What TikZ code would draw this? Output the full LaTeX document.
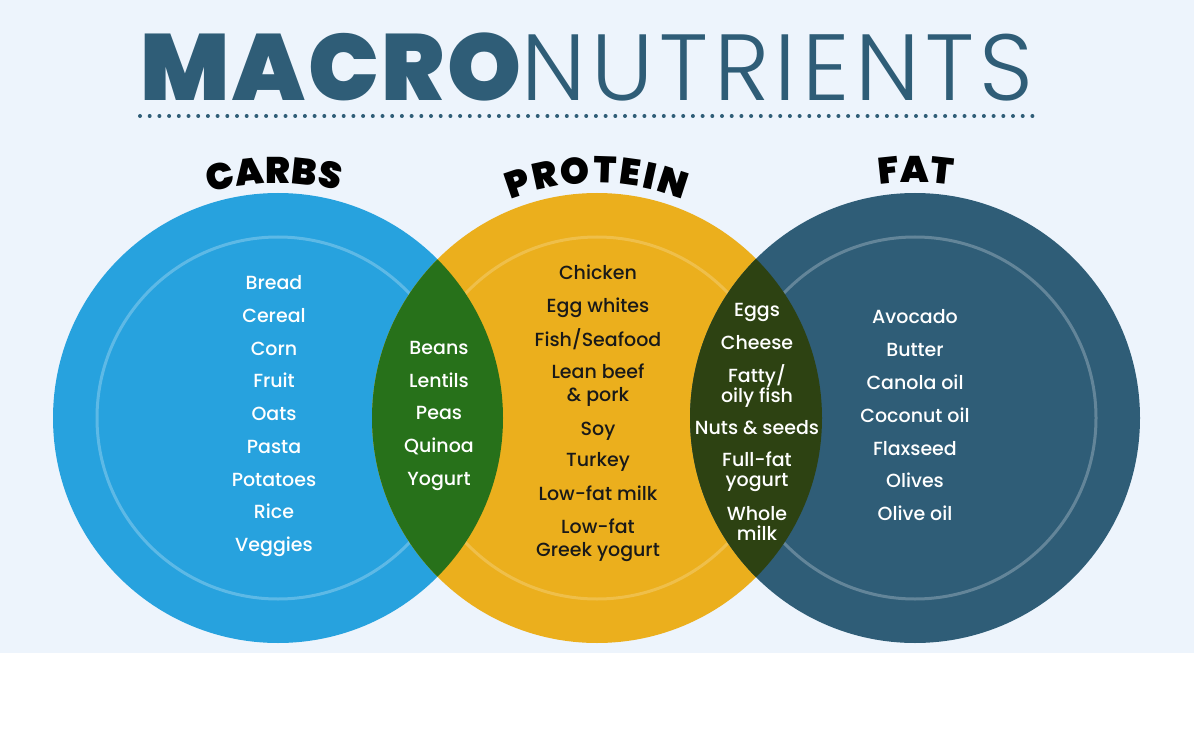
\documentclass[tikz,border=0pt]{standalone}
\usepackage{fontspec}
\setmainfont{Poppins}
\newfontfamily\lightfont{Poppins Light}[LetterSpace=6]
\newfontfamily\blackfont{Poppins Black}[LetterSpace=3]
\newfontfamily\headfont{Poppins Black}
\newfontfamily\medfont{Poppins Medium}
\usetikzlibrary{decorations.text}
\definecolor{bgBlue}{RGB}{237, 244, 252}
\definecolor{carbBlue}{RGB}{39, 162, 222}
\definecolor{protYellow}{RGB}{235, 175, 29}
\definecolor{fatNavy}{RGB}{47, 93, 119}
\definecolor{lensGreen}{RGB}{39, 113, 26}
\definecolor{lensOlive}{RGB}{45, 66, 18}
\tikzset{
  food/.style={font=\medfont\fontsize{9.5}{11.5}\selectfont, text=white, align=center, inner sep=0pt, anchor=base},
  protfood/.style={food, text=black!90},
  tightfood/.style={food, font=\medfont\fontsize{9.5}{10}\selectfont},
  ring/.style={white, opacity=0.25, line width=1.5pt},
  heading/.style={decorate, decoration={text along path, text align=fit to path,
      text={|\headfont\fontsize{18.5}{20}\selectfont|#1}}}
}
\begin{document}
\begin{tikzpicture}[x=0.5pt, y=0.5pt]
      \useasboundingbox (0,0) rectangle (1194,735);
      \fill[bgBlue] (0,82) rectangle (1194,735);

      % Title and dotted rule
      \node[fatNavy, anchor=base, inner sep=0pt] (title) at (587,634)
        {\fontsize{47}{50}\selectfont{\blackfont MACRO}{\lightfont NUTRIENTS}};
      \coordinate (ruleL) at (140,619);
      \coordinate (ruleR) at (1033,619);
      \draw[fatNavy, line width=2pt, line cap=round, dash pattern=on 0pt off 4.85pt] (ruleL) -- (ruleR);

      % Circle centres
      \coordinate (cc) at (278,317);
      \coordinate (pc) at (597,317);
      \coordinate (fc) at (915,317);

      % Circles and inner rings
      \fill[carbBlue] (cc) circle[radius=225];
      \fill[protYellow] (pc) circle[radius=225];
      \fill[fatNavy] (fc) circle[radius=225];
      \draw[ring] (cc) circle[radius=181];
      \draw[ring, opacity=0.2] (pc) circle[radius=181];
      \draw[ring] (fc) circle[radius=181];

      % Overlaps
      \begin{scope}
        \clip (cc) circle[radius=225];
        \fill[lensGreen] (pc) circle[radius=225];
      \end{scope}
      \begin{scope}
        \clip (fc) circle[radius=225];
        \fill[lensOlive] (pc) circle[radius=225];
      \end{scope}

      % Headings on arcs
      \path[heading=CARBS] ([shift={(cc)}]107:235) arc[start angle=107, end angle=75, radius=235];
      \path[heading=PROTEIN] ([shift={(pc)}]111.7:235) arc[start angle=111.7, end angle=68.5, radius=235];
      \path[heading=FAT] ([shift={(fc)}]98.6:236) arc[start angle=98.6, end angle=81.4, radius=236];

      % Carbs
      \node[food] (bread) at (274,445.5) {Bread};
      \node[food] (cereal) at (274,412.75) {Cereal};
      \node[food] (corn) at (274,380) {Corn};
      \node[food] (fruit) at (274,347.25) {Fruit};
      \node[food] (oats) at (274,314.5) {Oats};
      \node[food] (pasta) at (274,281.75) {Pasta};
      \node[food] (potatoes) at (274,249) {Potatoes};
      \node[food] (rice) at (274,216.25) {Rice};
      \node[food] (veggies) at (274,183.5) {Veggies};

      % Carbs and protein
      \node[food] (beans) at (439,380.5) {Beans};
      \node[food] (lentils) at (439,347.5) {Lentils};
      \node[food] (peas) at (439,315.5) {Peas};
      \node[food] (quinoa) at (439,282.5) {Quinoa};
      \node[food] (yogurt) at (439,249.5) {Yogurt};

      % Protein (two-line nodes sit on their last line)
      \node[protfood] (chicken) at (598,455) {Chicken};
      \node[protfood] (eggwhites) at (598,422.3) {Egg whites};
      \node[protfood] (fish) at (598,389) {Fish/Seafood};
      \node[protfood] (beef) at (598,333.3) {Lean beef\\\& pork};
      \node[protfood] (soy) at (598,300) {Soy};
      \node[protfood] (turkey) at (598,268.3) {Turkey};
      \node[protfood] (milk) at (598,235) {Low-fat milk};
      \node[protfood] (greek) at (598,179) {Low-fat\\Greek yogurt};

      % Protein and fat
      \node[tightfood] (eggs) at (757,419) {Eggs};
      \node[tightfood] (cheese) at (757,386) {Cheese};
      \node[tightfood] (oilyfish) at (757,332.7) {Fatty/\\oily fish};
      \node[tightfood] (nuts) at (757,300.7) {Nuts \& seeds};
      \node[tightfood] (fullfat) at (757,248.3) {Full-fat\\yogurt};
      \node[tightfood] (wholemilk) at (757,195) {Whole\\milk};

      % Fat
      \node[food] (avocado) at (915,411.7) {Avocado};
      \node[food] (butter) at (915,378.3) {Butter};
      \node[food] (canola) at (915,345.7) {Canola oil};
      \node[food] (coconut) at (915,312.7) {Coconut oil};
      \node[food] (flaxseed) at (915,280) {Flaxseed};
      \node[food] (olives) at (915,247.3) {Olives};
      \node[food] (oliveoil) at (915,215) {Olive oil};
    \end{tikzpicture}
\end{document}
